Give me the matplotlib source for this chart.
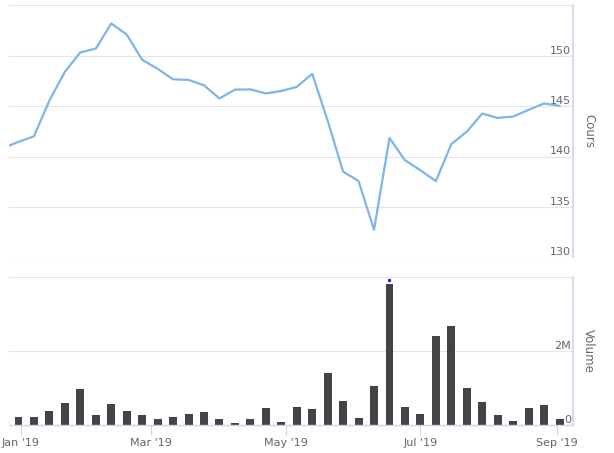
import matplotlib
matplotlib.use("Agg")
from matplotlib import pyplot as plt
import matplotlib.dates as mdates
import matplotlib.transforms as mtransforms
from matplotlib.ticker import FuncFormatter
import pandas as pd

# weekly close prices (first point lies before the visible window)
price_start = "2018-12-24"
price = [140.85, 141.45, 142.0, 145.56, 148.4, 150.33, 150.7, 153.2, 152.1,
         149.6, 148.7, 147.66, 147.6, 147.06, 145.76, 146.63, 146.66, 146.26,
         146.5, 146.9, 148.2, 143.56, 138.5, 137.56, 132.73, 141.83, 139.63,
         138.63, 137.56, 141.23, 142.46, 144.26, 143.83, 143.96, 144.63,
         145.26, 145.03]

# weekly volume, millions
volume_start = "2018-12-31"
volume_m = [0.23, 0.23, 0.39, 0.59, 0.97, 0.28, 0.56, 0.37, 0.28, 0.15,
            0.23, 0.31, 0.34, 0.17, 0.06, 0.15, 0.45, 0.09, 0.48, 0.42,
            1.41, 0.64, 0.20, 1.05, 3.81, 0.48, 0.31, 2.40, 2.68, 1.00,
            0.61, 0.26, 0.12, 0.45, 0.53, 0.15]

month_ticks = ["2019-01-01", "2019-03-01", "2019-05-01", "2019-07-01", "2019-09-01"]
price_ticks = [130, 135, 140, 145, 150, 155]
volume_ticks = [0, 2e6, 4e6]

LINE = "#7cb5ec"
BAR = "#434348"
GRID = "#e6e6e6"
AXIS = "#ccd6eb"
TXT = "#666666"

price_dates = pd.date_range(price_start, periods=len(price), freq="7D")
vol_dates = pd.date_range(volume_start, periods=len(volume_m), freq="7D")
volume = [v * 1e6 for v in volume_m]

W, H = 614, 453
fig = plt.figure(figsize=(W / 100, H / 100), dpi=100)
plt.rcParams["font.family"] = ["DejaVu Sans"]

ax1 = fig.add_axes([9 / W, (H - 257.3) / H, 564 / W, 252 / H])
ax2 = fig.add_axes([9 / W, (H - 425) / H, 564 / W, 147.7 / H])

jan1 = mdates.date2num(pd.Timestamp("2019-01-01"))
xlim = (jan1 - 5.3, jan1 + 250.1)

for ax in (ax1, ax2):
    ax.set_xlim(*xlim)
    ax.set_facecolor("white")
    for s in ("top", "left"):
        ax.spines[s].set_visible(False)
    ax.spines["right"].set_color(AXIS)
    ax.spines["right"].set_linewidth(1.2)
    ax.yaxis.tick_right()
    ax.yaxis.set_label_position("right")
    ax.grid(axis="y", color=GRID, linewidth=0.8)
    ax.set_axisbelow(True)
    ax.tick_params(axis="y", length=0, pad=-1.5, labelsize=8, labelcolor=TXT)

# price
ax1.plot(price_dates, price, color=LINE, linewidth=1.6, solid_joinstyle="round")
ax1.set_ylim(130, 155)
ax1.set_yticks(price_ticks)
ax1.yaxis.set_major_formatter(FuncFormatter(lambda v, p: "" if v >= 155 else f"{v:.0f}"))
ax1.spines["bottom"].set_visible(False)
ax1.tick_params(axis="x", bottom=False, labelbottom=False)
ax1.set_ylabel("Cours", rotation=270, color=TXT, fontsize=8.5, labelpad=16)

# volume
ax2.bar(vol_dates, volume, width=3.6, color=BAR, zorder=2)
peak = volume.index(max(volume))
dot = mtransforms.offset_copy(ax2.transData, fig=fig, y=4, units="dots")
ax2.plot(vol_dates[peak], volume[peak], marker="o", ms=1.5, color="#2222ee",
         transform=dot, zorder=3)
ax2.set_ylim(0, 4e6)
ax2.set_yticks(volume_ticks)
ax2.yaxis.set_major_formatter(FuncFormatter(
    lambda v, p: "0" if v == 0 else ("" if v >= 4e6 else f"{v / 1e6:.0f}M")))
ax2.spines["bottom"].set_color(AXIS)
ax2.spines["bottom"].set_linewidth(1.0)
ax2.set_xticks([mdates.date2num(pd.Timestamp(d)) for d in month_ticks])
ax2.xaxis.set_major_formatter(mdates.DateFormatter("%b '%y"))
ax2.tick_params(axis="x", length=7, width=0.8, color=AXIS, labelsize=8,
                labelcolor=TXT, pad=2)
ax2.set_ylabel("Volume", rotation=270, color=TXT, fontsize=8.5, labelpad=16)

for ax in (ax1, ax2):
    for lab in ax.get_yticklabels():
        lab.set_horizontalalignment("right")
        lab.set_verticalalignment("bottom")

fig.savefig("out.png", dpi=100, facecolor="white")
